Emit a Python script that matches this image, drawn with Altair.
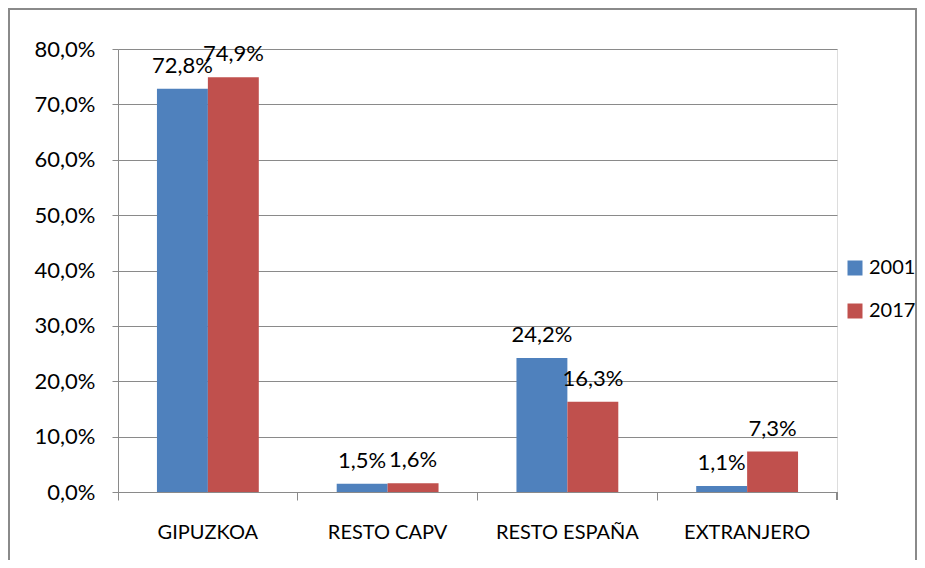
import altair as alt
import pandas as pd

categories = ["GIPUZKOA", "RESTO CAPV", "RESTO ESPAÑA", "EXTRANJERO"]
years = ["2001", "2017"]
values_2001 = [72.8, 1.5, 24.2, 1.1]
values_2017 = [74.9, 1.6, 16.3, 7.3]
y_ticks = [0, 10, 20, 30, 40, 50, 60, 70, 80]
colors = ["#4F81BD", "#C0504D"]

rows = []
for c, a, b in zip(categories, values_2001, values_2017):
    rows.append({"cat": c, "year": "2001", "value": a})
    rows.append({"cat": c, "year": "2017", "value": b})
df = pd.DataFrame(rows)
df["label"] = df["value"].map(lambda v: f"{v:.1f}".replace(".", ",") + "%")

FONT = "Lato"
GRAY = "#8A8A8A"
W, H = 719, 443

base = alt.Chart(df).encode(
    x=alt.X(
        "cat:N",
        sort=categories,
        title=None,
        scale=alt.Scale(paddingInner=0, paddingOuter=0),
        axis=alt.Axis(
            labelAngle=0,
            bandPosition=0,
            tickSize=8,
            tickColor=GRAY,
            domainColor=GRAY,
            labelPadding=22,
            labelFontSize=20,
            labelFont=FONT,
            labelColor="black",
            labelAlign="center",
            labelFlush=False,
        ),
    ),
    xOffset=alt.XOffset(
        "year:N", sort=years, scale=alt.Scale(paddingInner=0, paddingOuter=0.765)
    ),
    y=alt.Y(
        "value:Q",
        title=None,
        scale=alt.Scale(domain=[0, 80], nice=False),
        axis=alt.Axis(
            values=y_ticks,
            labelExpr="replace(format(datum.value, '.1f'), '.', ',') + '%'",
            grid=True,
            gridColor=GRAY,
            domainColor=GRAY,
            tickColor=GRAY,
            tickSize=6,
            labelPadding=17,
            labelFontSize=22,
            labelFont=FONT,
            labelColor="black",
        ),
    ),
)

bars = base.mark_bar().encode(
    color=alt.Color(
        "year:N",
        sort=years,
        scale=alt.Scale(domain=years, range=colors),
        legend=alt.Legend(
            title=None,
            orient="none",
            legendX=727,
            legendY=209,
            symbolType="square",
            symbolSize=225,
            symbolStrokeWidth=0,
            labelFontSize=20,
            labelFont=FONT,
            labelColor="black",
            rowPadding=23,
            labelOffset=4,
        ),
    )
)

text = base.mark_text(
    baseline="alphabetic", dy=-16, fontSize=22, font=FONT, color="black"
).encode(text="label:N")

end_tick = alt.Chart(df).mark_rule(color=GRAY).encode(
    x=alt.value(W), y=alt.value(H), y2=alt.value(H + 8)
)

border = alt.Chart(df).mark_rect(fill=None, stroke=GRAY, strokeWidth=1.5).encode(
    x=alt.value(-109), x2=alt.value(798), y=alt.value(-40), y2=alt.value(620)
)

chart = (
    alt.layer(border, bars, text, end_tick)
    .properties(
        width=W,
        height=H,
        autosize=alt.AutoSizeParams(type="none"),
        padding={"left": 110, "top": 41, "right": 80, "bottom": 68},
    )
    .configure_view(stroke=None)
    .configure(background="white")
)

chart.save("out.html", embed_options={"renderer": "svg", "actions": False})
